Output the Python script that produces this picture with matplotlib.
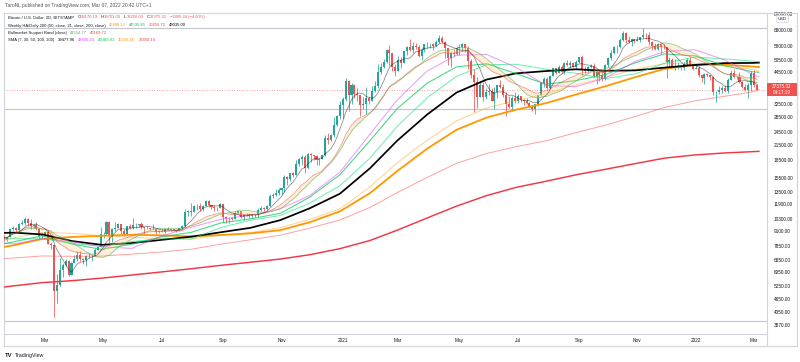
import numpy as np
import pandas as pd
import matplotlib
matplotlib.use("Agg")
import matplotlib.pyplot as plt
import matplotlib.dates as mdates
from matplotlib.patches import Rectangle
from matplotlib.lines import Line2D
from matplotlib.offsetbox import TextArea, HPacker, AnnotationBbox

plt.rcParams['font.family'] = ['Liberation Sans', 'DejaVu Sans']

# ---- 3D candles, BITSTAMP BTCUSD, first bar opens 2020-01-18 ----
candle_start = "2020-01-18"
first_open = 8930
closes = [
    8630, 8400, 8600, 9300, 9380, 9180, 9810, 9860, 10240, 9930,
    9600, 9660, 9320, 8700, 8900, 9070, 8040, 7940, 5000, 5330,
    6200, 6480, 6760, 5880, 6640, 6870, 7200, 6870, 6860, 7120,
    7130, 7130, 7540, 7760, 8830, 8880, 9990, 8730, 9320, 9380,
    9780, 9170, 8900, 9580, 9450, 9660, 9670, 9770, 9470, 9430,
    9380, 9300, 9290, 9010, 9140, 9060, 9340, 9240, 9300, 9190,
    9170, 9390, 9550, 11050, 11110, 11070, 11750, 11760, 11400, 11770,
    12290, 11860, 11650, 11470, 11500, 11930, 10470, 10370, 10360, 10330,
    10950, 11090, 10530, 10690, 10700, 10620, 10670, 10670, 11300, 11430,
    11320, 11750, 12980, 13030, 13280, 13800, 14030, 15580, 15330, 16280,
    15960, 17800, 18700, 19160, 17140, 19700, 19450, 19360, 18550, 18810,
    19440, 23130, 22740, 23730, 26280, 28890, 32200, 34030, 40800, 35540,
    39150, 35790, 35470, 32080, 32510, 34320, 33530, 36930, 38900, 44840,
    47160, 49170, 55900, 54090, 47070, 45140, 50340, 48880, 54880, 57230,
    55600, 57650, 57350, 52300, 55830, 58780, 58970, 59120, 58090, 60000,
    62950, 60000, 56500, 51190, 54000, 53580, 56580, 57480, 58840, 56720,
    49900, 43540, 40520, 34700, 39240, 34630, 36690, 36850, 33580, 36690,
    39100, 38350, 35480, 32500, 31590, 34500, 33570, 35290, 33860, 33520,
    32730, 31420, 30840, 32290, 35420, 40020, 41480, 38200, 42830, 46290,
    44430, 47040, 44800, 48860, 47700, 49070, 47050, 49280, 51790, 46070,
    45160, 47100, 47300, 43010, 44880, 43210, 41520, 47660, 51470, 53970,
    57480, 57350, 61530, 66000, 61300, 60330, 62250, 61000, 61430, 63300,
    64880, 64400, 60100, 58100, 56280, 58960, 57280, 57200, 49200, 50470,
    47140, 46740, 47630, 46700, 48600, 50430, 47590, 46210, 46460, 43160,
    41910, 43950, 43180, 42370, 36470, 36680, 37160, 37920, 36950, 41410,
    44100, 42400, 42560, 40550, 38430, 37260, 39120, 44420, 39170, 37375.32,
]
highs = [
    9190, 8790, 8620, 9430, 9560, 9470, 9850, 10170, 10500, 10390,
    10250, 9780, 10020, 9370, 8960, 9150, 9200, 8180, 7970, 5950,
    6950, 6630, 6880, 6850, 6720, 7200, 7470, 7460, 6990, 7200,
    7300, 7220, 7700, 7800, 9460, 9000, 10050, 10060, 9380, 9940,
    9900, 9830, 9300, 9600, 9740, 10400, 9880, 9800, 9990, 9490,
    9580, 9400, 9780, 9310, 9220, 9300, 9350, 9460, 9320, 9340,
    9230, 9420, 9670, 11400, 11260, 12100, 11800, 11900, 12080, 11810,
    12480, 12400, 11880, 11810, 11600, 12080, 11950, 10590, 10480, 10480,
    11100, 11180, 11060, 10790, 10950, 10950, 10690, 10800, 11480, 11720,
    11550, 11800, 13200, 13330, 13850, 13970, 14080, 15960, 15760, 16350,
    16480, 18480, 18960, 19400, 19450, 19860, 19920, 19550, 19400, 18900,
    19570, 23800, 24300, 24100, 28400, 28990, 33300, 34800, 41950, 41350,
    40100, 39700, 37900, 35600, 34900, 38500, 34900, 38700, 40950, 48200,
    48900, 50600, 56300, 58350, 52000, 48400, 52600, 51800, 54900, 58000,
    61800, 60000, 59500, 58400, 56600, 59300, 60200, 59900, 59500, 61300,
    64900, 63800, 61000, 56700, 54300, 56400, 58000, 58900, 59500, 59300,
    57900, 50600, 45800, 42400, 40900, 40400, 37900, 39500, 37900, 38400,
    39300, 41300, 39500, 36400, 35000, 35300, 36600, 35900, 35100, 34000,
    34600, 33200, 32000, 32600, 35400, 40500, 42300, 42600, 43000, 46400,
    46700, 48100, 47900, 49300, 50500, 49800, 49400, 50300, 51900, 52900,
    47300, 47300, 48500, 48800, 44900, 45000, 44300, 48400, 51900, 55700,
    57800, 58500, 62900, 67000, 66600, 63700, 62900, 62400, 64300, 63300,
    69000, 65600, 66300, 60800, 59900, 59400, 59100, 59100, 57500, 51900,
    51200, 50800, 49500, 48000, 49500, 51400, 51900, 48100, 47900, 47500,
    43100, 44300, 44400, 43500, 42500, 36800, 38900, 38700, 39200, 41900,
    45500, 45800, 43000, 44800, 40900, 39500, 39900, 44900, 45400, 39701,
]
lows = [
    8470, 8300, 8230, 8580, 9230, 9080, 9170, 9730, 9730, 9610,
    9300, 9450, 9250, 8500, 8410, 8650, 8000, 7600, 3850, 4450,
    5250, 5740, 6450, 5850, 5860, 6600, 6780, 6770, 6550, 6460,
    7000, 6750, 7080, 7530, 7750, 8550, 8790, 8120, 8200, 9150,
    9480, 8900, 8650, 8810, 9330, 9270, 9450, 9530, 9270, 8900,
    9280, 9200, 9200, 8830, 8950, 9030, 8980, 9180, 9120, 9100,
    9050, 9120, 9280, 9520, 10600, 10600, 11000, 11300, 11150, 11150,
    11680, 11580, 11380, 11150, 11120, 11450, 9950, 9880, 9880, 10200,
    10270, 10780, 10380, 10150, 10630, 10440, 10380, 10530, 10540, 11200,
    11200, 11250, 11680, 12720, 12900, 13050, 13230, 13530, 14400, 15100,
    15700, 15900, 17400, 17650, 16300, 17000, 18200, 18600, 17650, 17570,
    18900, 19280, 21800, 22350, 23450, 26100, 28000, 28100, 33400, 30300,
    32500, 34400, 33400, 28800, 31000, 29300, 32300, 33400, 36600, 38000,
    43800, 46300, 48900, 47600, 44900, 43000, 45100, 46300, 48900, 53000,
    55000, 54200, 56300, 51700, 50400, 54700, 57000, 56500, 55500, 57900,
    59400, 59600, 51500, 47700, 47000, 52400, 53100, 53000, 55300, 54400,
    46000, 42100, 30000, 31100, 34900, 33400, 34200, 35600, 33400, 31000,
    34600, 38100, 34800, 28800, 31300, 30200, 32700, 32700, 33000, 32100,
    32300, 31100, 30400, 29300, 31700, 35200, 38300, 37600, 37500, 42800,
    43800, 44300, 44300, 43900, 47600, 46400, 46900, 46700, 48900, 43000,
    44200, 44800, 46700, 42600, 39600, 40900, 40800, 41400, 46900, 50400,
    53700, 54200, 56800, 60700, 59700, 59600, 58100, 59500, 60700, 60100,
    62800, 62300, 58600, 55600, 55600, 55800, 53300, 56000, 42000, 47100,
    46900, 45700, 46100, 45500, 45600, 48000, 47300, 45700, 46000, 42600,
    40600, 39700, 42300, 41300, 35500, 33000, 35700, 36200, 36600, 36300,
    41100, 42000, 41600, 40100, 38000, 36800, 34300, 37000, 38600, 37250,
]

# ---- indicator lines, read at month ends ----
ma_dates = [
    "2020-01-18", "2020-01-31", "2020-02-29", "2020-03-31", "2020-04-30",
    "2020-05-31", "2020-06-30", "2020-07-31", "2020-08-31", "2020-09-30",
    "2020-10-31", "2020-11-30", "2020-12-31", "2021-01-31", "2021-02-28",
    "2021-03-31", "2021-04-30", "2021-05-31", "2021-06-30", "2021-07-31",
    "2021-08-31", "2021-09-30", "2021-10-31", "2021-11-30", "2021-12-31",
    "2022-01-31", "2022-02-28", "2022-03-07",
]
sma30 = [8100, 8030, 8470, 8200, 7800, 7670, 8670, 9470, 10270, 10670,
         11400, 13000, 16430, 24000, 33800, 45200, 52800, 53200, 46800, 39100,
         38600, 42000, 49700, 54700, 55800, 50300, 43700, 42606]
sma50 = [8400, 8460, 8440, 8060, 7820, 8220, 8440, 8420, 9460, 10160,
         10660, 12060, 14340, 18900, 25960, 34600, 42800, 48000, 48260, 45960,
         44060, 41760, 43860, 48800, 51800, 50900, 49800, 49389]
sma100 = [8300, 8530, 8990, 8920, 8710, 8570, 8450, 8430, 8760, 8990,
          9440, 10250, 11380, 14180, 18060, 22630, 27430, 31170, 33580, 35960,
          39330, 42280, 45930, 48530, 48880, 47480, 45780, 45336]
sma200 = [6930, 6970, 7115, 7085, 7110, 7245, 7395, 7605, 8005, 8360,
          8760, 9390, 10185, 11550, 13385, 15600, 17940, 19800, 21170, 22475,
          24385, 26265, 28655, 31355, 33470, 35055, 36605, 37450]
daily200 = [8950, 8980, 8820, 8250, 7950, 8090, 8350, 8620, 9020, 9420,
            10180, 11450, 13240, 17080, 22500, 29250, 36370, 41420, 44050, 45080,
            45890, 45200, 45390, 46660, 47910, 48810, 48880, 49035]
weekly50 = [7750, 7920, 8430, 8600, 8700, 8790, 8740, 8650, 8770, 8910,
            9210, 9960, 11100, 13320, 16610, 20800, 25080, 28350, 30630, 32710,
            35690, 38710, 42440, 46070, 48000, 48030, 47200, 46888]
weekly21 = [8000, 8200, 8700, 8000, 7600, 8000, 8600, 9000, 9900, 10300,
            10900, 12800, 16000, 22500, 31000, 40000, 47000, 48500, 44000, 39500,
            41000, 43500, 49000, 53500, 52500, 47500, 44800, 44535]
weekly200 = [5200, 5280, 5450, 5560, 5700, 5880, 6060, 6260, 6480, 6680,
             6900, 7200, 7650, 8300, 9200, 10400, 11700, 13000, 14100, 15000,
             16000, 16900, 17900, 18900, 19500, 19900, 20150, 20216]

hlines = [69000, 30900, 3700]
last_price = 37375.32

# 38500 sits under the price tag in the reference, so it is left out
ytick_vals = [3570, 4050, 4650, 5250, 6050, 6850, 7850, 9100, 10300, 11900,
              13500, 15500, 18500, 21500, 24500, 28500, 32500, 44500,
              50500, 58000, 68000, 80000]
xtick_dates = ["2020-03-03", "2020-05-02", "2020-07-01", "2020-09-02", "2020-11-01",
               "2021-01-03", "2021-03-01", "2021-05-03", "2021-07-02", "2021-09-03",
               "2021-11-02", "2022-01-01", "2022-03-02"]
xtick_labels = ["Mar", "May", "Jul", "Sep", "Nov", "2021", "Mar", "May", "Jul",
                "Sep", "Nov", "2022", "Mar"]

UP, DOWN = "#26a69a", "#ef5350"
W, H = 800, 362


def fx(x):
    return x / W


def fy(y):
    return 1 - y / H


fig = plt.figure(figsize=(8, 3.62), dpi=100)
ax = fig.add_axes([fx(4), fy(334), 763 / W, 321 / H])

# candles
dates = pd.date_range(candle_start, periods=len(closes), freq="3D")
x = mdates.date2num(dates)
c = np.array(closes, float)
o = np.concatenate([[first_open], c[:-1]])
o[-1] = 39170.19
h = np.maximum(np.array(highs, float), np.maximum(o, c))
l = np.minimum(np.array(lows, float), np.minimum(o, c))
col = np.where(c >= o, UP, DOWN)
ax.vlines(x, l, h, colors=col, lw=0.55, zorder=3)
ax.bar(x, np.abs(c - o), bottom=np.minimum(o, c), width=2.1, color=col,
       linewidth=0, zorder=3)

# indicators
mx = mdates.date2num(pd.to_datetime(ma_dates))
ax.plot(mx, weekly200, color="#f23645", lw=1.05, zorder=4)
ax.plot(mx, sma200, color="#ff5252", lw=0.7, alpha=0.55, zorder=4)
ax.plot(mx, weekly50, color="#ff9800", lw=1.3, zorder=4)
ax.plot(mx, sma100, color="#ff9800", lw=0.7, alpha=0.45, zorder=4)
ax.plot(mx, daily200, color="black", lw=1.25, zorder=4)
ax.plot(mx, sma50, color="#00e676", lw=0.7, alpha=0.6, zorder=4)
ax.plot(mx, weekly21, color="#00c853", lw=0.8, alpha=0.7, zorder=4)
ax.plot(mx, sma30, color="#e040fb", lw=0.7, alpha=0.55, zorder=4)

cs = pd.Series(c)
bm_sma = cs.rolling(20, min_periods=1).mean()
bm_ema = cs.ewm(span=21, adjust=True).mean()
ax.fill_between(x, bm_sma, bm_ema, color="#ffcc80", alpha=0.3, lw=0, zorder=4)
ax.plot(x, bm_sma, color="#4caf50", lw=0.6, alpha=0.6, zorder=4)
ax.plot(x, bm_ema, color="#f44336", lw=0.6, alpha=0.55, zorder=4)
ax.plot(x, cs.rolling(7, min_periods=1).mean(), color="black", lw=0.6,
        alpha=0.45, zorder=4)

for v in hlines:
    ax.axhline(v, color="#c3c6ce", lw=0.8, zorder=1)
ax.axhline(last_price, color=DOWN, lw=0.6, ls=(0, (1, 2)), alpha=0.7, zorder=2)

# axes
ax.set_yscale("log")
ax.set_ylim(3263, 80500)
x0 = mdates.date2num(pd.Timestamp("2020-03-01"))
ax.set_xlim(x0 - 40.4, x0 + 744.3)
ax.yaxis.tick_right()
ax.set_yticks(ytick_vals)
ax.set_yticklabels([f"{v:.2f}" for v in ytick_vals])
ax.yaxis.set_minor_locator(matplotlib.ticker.NullLocator())
ax.tick_params(axis="y", length=0, pad=5, labelsize=3.4, labelcolor="#131722")
ax.set_xticks(mdates.date2num(pd.to_datetime(xtick_dates)))
ax.set_xticklabels(xtick_labels)
ax.tick_params(axis="x", length=0, pad=3, labelsize=3.4, labelcolor="#131722")
for s in ax.spines.values():
    s.set_color("#d1d4dc")
    s.set_linewidth(0.8)

# frame pieces outside the pane
for (xa, ya, xb, yb) in [(4, 346, 797, 346), (767, 334, 767, 346), (4, 334, 4, 346),
                         (797, 13, 797, 346), (767, 13, 797, 13)]:
    fig.add_artist(Line2D([fx(xa), fx(xb)], [fy(ya), fy(yb)], color="#d1d4dc", lw=0.8))

# price tag
fig.add_artist(Rectangle((fx(767), fy(96)), 30 / W, 13 / H, color=DOWN, lw=0))
fig.text(fx(782), fy(86.3), "37375.32", color="white", fontsize=3.3, ha="center", va="center")
fig.text(fx(782), fy(92.7), "04:17:19", color="white", fontsize=3.3, ha="center", va="center")
fig.text(fx(782), fy(18.5), "USD", color="#131722", fontsize=3.0, ha="center", va="center",
         bbox=dict(boxstyle="square,pad=0.25", fc="white", ec="#d1d4dc", lw=0.5))

# header and legend
fig.text(fx(5), fy(5), "TaroNL published on TradingView.com, Mar 07, 2022 20:42 UTC+1",
         fontsize=3.5, color="#50535e", va="center")

TXT = "#131722"
# each group is one run of coloured pieces printed without gaps
rows = [
    (17.3, [[("Bitcoin / U.S. Dollar, 3D, BITSTAMP", TXT)],
            [("O", TXT), ("39170.19", DOWN)], [("H", TXT), ("39701.00", DOWN)],
            [("L", TXT), ("37250.00", DOWN)], [("C", TXT), ("37375.32", DOWN)],
            [("\u22121800.24 (\u22124.60%)", DOWN)]]),
    (25.5, [[("Weekly HA/Daily 200 (50, close, 21, close, 200, close)", TXT)],
            [("46888.12", "#ff9800")], [("44535.85", "#00c853")], [("20216.72", "#f23645")],
            [("49035.00", "black")]]),
    (33.3, [[("Bullmarket Support Band (close)", TXT)], [("41554.77", "#4caf50")],
            [("40169.72", "#f44336")]]),
    (40.3, [[("SMA (7, 30, 50, 100, 200)", TXT)], [("39477.96", "black")],
            [("42606.24", "#e040fb")], [("49389.91", "#00c853")], [("45336.18", "#ff9800")],
            [("37450.14", "#f23645")]]),
]
for y, groups in rows:
    packs = []
    for g in groups:
        pieces = [TextArea(s, textprops=dict(color=cl, size=3.0)) for s, cl in g]
        packs.append(HPacker(children=pieces, align="center", pad=0, sep=0))
    pk = HPacker(children=packs, align="center", pad=0, sep=2.3)
    ab = AnnotationBbox(pk, (8, H - y), xycoords="figure pixels", box_alignment=(0, 0.5),
                        frameon=False, pad=0)
    fig.add_artist(ab)

# footer logo
fig.text(fx(5), fy(355.5), "TV", fontsize=4.2, fontweight="bold", color=TXT, va="center")
fig.text(fx(15), fy(355.5), "TradingView", fontsize=3.8, color=TXT, va="center")

fig.savefig("out.png", dpi=100)
